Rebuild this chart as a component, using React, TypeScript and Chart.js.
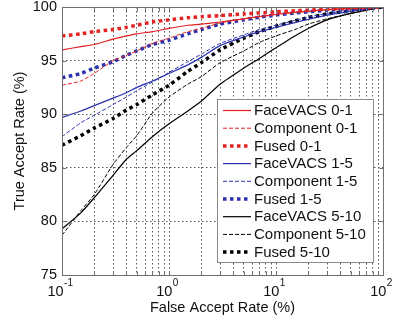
import React, { useEffect, useRef } from 'react';
import { Chart, registerables } from 'chart.js';

Chart.register(...registerables);

// ---- data ----
const fpr = [0.1, 0.15, 0.2, 0.3, 0.4, 0.5, 0.7, 1, 1.5, 2, 3, 5, 7, 10, 15, 20, 30, 50, 70, 100];

const faceVacs01 = [96.0, 96.3, 96.5, 97.0, 97.3, 97.5, 97.7, 98.0, 98.3, 98.4, 98.6, 98.9, 99.1, 99.3, 99.5, 99.6, 99.75, 99.88, 99.95, 100];
const component01 = [92.7, 93.1, 93.8, 95.0, 95.5, 95.9, 96.6, 97.1, 97.7, 98.0, 98.5, 98.9, 99.1, 99.3, 99.5, 99.6, 99.75, 99.88, 99.95, 100];
const fused01 = [97.3, 97.5, 97.7, 97.9, 98.1, 98.3, 98.6, 98.8, 99.0, 99.1, 99.2, 99.35, 99.45, 99.55, 99.65, 99.7, 99.8, 99.9, 99.95, 100];

const faceVacs15 = [89.7, 90.3, 90.8, 91.5, 92.0, 92.5, 93.1, 93.8, 94.6, 95.3, 96.4, 97.2, 97.7, 98.1, 98.55, 98.85, 99.25, 99.6, 99.8, 100];
const component15 = [87.9, 89.2, 89.9, 90.9, 91.6, 92.2, 93.0, 93.9, 94.9, 95.6, 96.6, 97.4, 97.9, 98.3, 98.75, 99.05, 99.4, 99.7, 99.85, 100];
const fused15 = [93.4, 93.8, 94.3, 94.9, 95.5, 95.9, 96.5, 96.9, 97.5, 97.9, 98.4, 98.8, 99.05, 99.25, 99.45, 99.55, 99.7, 99.85, 99.93, 100];

const faceVacs510 = [79.3, 80.8, 82.2, 84.3, 85.8, 86.6, 87.9, 89.1, 90.3, 91.2, 92.8, 94.3, 95.2, 96.2, 97.3, 98.0, 98.8, 99.4, 99.7, 100];
const component510 = [78.7, 81.0, 82.5, 85.3, 86.9, 88.0, 90.1, 91.6, 92.8, 93.5, 94.8, 95.9, 96.7, 97.3, 97.9, 98.4, 98.9, 99.4, 99.7, 100];
const fused510 = [87.1, 88.0, 88.7, 89.6, 90.4, 90.9, 91.8, 92.7, 94.0, 94.8, 96.0, 97.1, 97.7, 98.2, 98.7, 99.0, 99.35, 99.65, 99.85, 100];

const seriesLabels = [
  'FaceVACS 0-1', 'Component 0-1', 'Fused 0-1',
  'FaceVACS 1-5', 'Component 1-5', 'Fused 1-5',
  'FaceVACS 5-10', 'Component 5-10', 'Fused 5-10',
];
const seriesValues = [
  faceVacs01, component01, fused01,
  faceVacs15, component15, fused15,
  faceVacs510, component510, fused510,
];

const xGridValues = [
  0.1, 0.2, 0.3, 0.4, 0.5, 0.6, 0.7, 0.8, 0.9,
  1, 2, 3, 4, 5, 6, 7, 8, 9,
  10, 20, 30, 40, 50, 60, 70, 80, 90, 100,
];
const xMajorValues = [0.1, 1, 10, 100];
const xMajorExponents = ['-1', '0', '1', '2'];
const yTickValues = [75, 80, 85, 90, 95, 100];

const xTitle = 'False Accept Rate (%)';
const yTitle = 'True Accept Rate (%)';

// ---- styles ----
const FONT = '"Liberation Sans", Arial, Helvetica, sans-serif';
const RED = '#e42222';
const BLUE = '#2a32b0';
const BLACK = '#000000';
const groupColors = [RED, RED, RED, BLUE, BLUE, BLUE, BLACK, BLACK, BLACK];
const kindStyle = [
  { width: 1.2, dash: [] as number[] },
  { width: 1, dash: [4, 2] },
  { width: 3.5, dash: [3.5, 3.5] },
];

const overlayPlugin = {
  id: 'overlay',
  afterDraw(chart: any) {
    const { ctx, chartArea: a, scales } = chart;
    const xs = scales.x;
    const ys = scales.y;
    ctx.save();
    ctx.setLineDash([]);
    ctx.lineWidth = 1;
    ctx.strokeStyle = '#707070';

    const L = Math.round(a.left) + 0.5;
    const R = Math.round(a.right) + 0.5;
    const T = Math.round(a.top) + 0.5;
    const B = Math.round(a.bottom) + 0.5;

    // tick marks inside the box
    ctx.beginPath();
    for (const v of xGridValues) {
      const px = Math.round(xs.getPixelForValue(v)) + 0.5;
      ctx.moveTo(px, B); ctx.lineTo(px, B - 4);
      ctx.moveTo(px, T); ctx.lineTo(px, T + 4);
    }
    for (const v of yTickValues) {
      const py = Math.round(ys.getPixelForValue(v)) + 0.5;
      ctx.moveTo(L, py); ctx.lineTo(L + 4, py);
      ctx.moveTo(R, py); ctx.lineTo(R - 4, py);
    }
    ctx.stroke();

    // box
    ctx.strokeRect(L, T, R - L, B - T);

    // x tick labels: 10 with superscript exponent
    ctx.fillStyle = '#111';
    ctx.textBaseline = 'alphabetic';
    ctx.textAlign = 'left';
    xMajorValues.forEach((v, i) => {
      const px = xs.getPixelForValue(v);
      ctx.font = `14.5px ${FONT}`;
      const wb = ctx.measureText('10').width;
      ctx.font = `10px ${FONT}`;
      const we = ctx.measureText(xMajorExponents[i]).width;
      const start = px - (wb + we) / 2 - 2;
      ctx.font = `14.5px ${FONT}`;
      ctx.fillText('10', start, 295.5);
      ctx.font = `10px ${FONT}`;
      ctx.fillText(xMajorExponents[i], start + wb + 0.5, 285.5);
    });

    // legend box
    const lx = 217.5, ly = 99.5, lw = 156, lh = 163;
    ctx.fillStyle = '#ffffff';
    ctx.fillRect(lx, ly, lw, lh);
    ctx.strokeStyle = '#8a8a8a';
    ctx.lineWidth = 1;
    ctx.strokeRect(lx, ly, lw, lh);

    chart.data.datasets.forEach((ds: any, i: number) => {
      const y = 110.5 + i * 17.7;
      ctx.save();
      ctx.strokeStyle = ds.borderColor;
      ctx.lineWidth = ds.borderWidth;
      ctx.setLineDash(ds.borderDash || []);
      ctx.lineCap = 'butt';
      ctx.beginPath();
      ctx.moveTo(223, y);
      ctx.lineTo(251, y);
      ctx.stroke();
      ctx.restore();
      ctx.fillStyle = '#111';
      ctx.font = `15px ${FONT}`;
      ctx.textBaseline = 'middle';
      ctx.textAlign = 'left';
      ctx.fillText(ds.label, 254, y + 0.5);
    });

    ctx.restore();
  },
};

export default function App() {
  const canvasRef = useRef<HTMLCanvasElement | null>(null);

  useEffect(() => {
    const canvas = canvasRef.current;
    if (!canvas) return;

    const datasets = seriesLabels.map((label, i) => {
      const st = kindStyle[i % 3];
      return {
        label,
        data: fpr.map((x, j) => ({ x, y: seriesValues[i][j] })),
        borderColor: groupColors[i],
        backgroundColor: groupColors[i],
        borderWidth: st.width,
        borderDash: st.dash,
        borderCapStyle: 'butt',
        pointRadius: 0,
        pointHoverRadius: 0,
        tension: 0.2,
        fill: false,
      };
    });

    const gridColor = '#555555';

    const chart = new Chart(canvas, {
      type: 'line',
      data: { datasets } as any,
      options: {
        animation: false,
        responsive: false,
        devicePixelRatio: 1,
        events: [],
        layout: { padding: { left: 0, right: 13, top: 7, bottom: 0 } },
        plugins: {
          legend: { display: false },
          tooltip: { enabled: false },
          title: { display: false },
        },
        scales: {
          x: {
            type: 'logarithmic',
            min: 0.1,
            max: 100,
            afterBuildTicks: (scale: any) => {
              scale.ticks = xGridValues.map((v) => ({ value: v }));
            },
            afterFit: (scale: any) => {
              scale.height = 44;
              scale.paddingLeft = 0;
              scale.paddingRight = 0;
            },
            ticks: { display: false },
            grid: { color: gridColor, lineWidth: 1, drawTicks: false },
            border: { display: false, dash: [1.5, 2.5] },
            title: {
              display: true,
              text: xTitle,
              color: '#111',
              font: { family: FONT, size: 14.5 },
              padding: { top: 0, bottom: 2 },
            },
          },
          y: {
            type: 'linear',
            min: 75,
            max: 100,
            afterBuildTicks: (scale: any) => {
              scale.ticks = yTickValues.map((v) => ({ value: v }));
            },
            afterFit: (scale: any) => {
              scale.width = 62;
              scale.paddingTop = 0;
              scale.paddingBottom = 0;
            },
            ticks: {
              color: '#111',
              font: { family: FONT, size: 14.5 },
              padding: 5,
              callback: (v: any) => String(v),
            },
            grid: { color: gridColor, lineWidth: 1, drawTicks: false },
            border: { display: false, dash: [1.5, 2.5] },
            title: {
              display: true,
              text: yTitle,
              color: '#111',
              font: { family: FONT, size: 14.5 },
              padding: { top: 11.5, bottom: 0 },
            },
          },
        },
      } as any,
      plugins: [overlayPlugin],
    });

    return () => {
      chart.destroy();
    };
  }, []);

  return (
    <div style={{ position: 'fixed', left: 0, top: 0, width: 396, height: 319, background: '#fff' }}>
      <canvas ref={canvasRef} width={396} height={319} style={{ display: 'block', width: 396, height: 319 }} />
    </div>
  );
}
